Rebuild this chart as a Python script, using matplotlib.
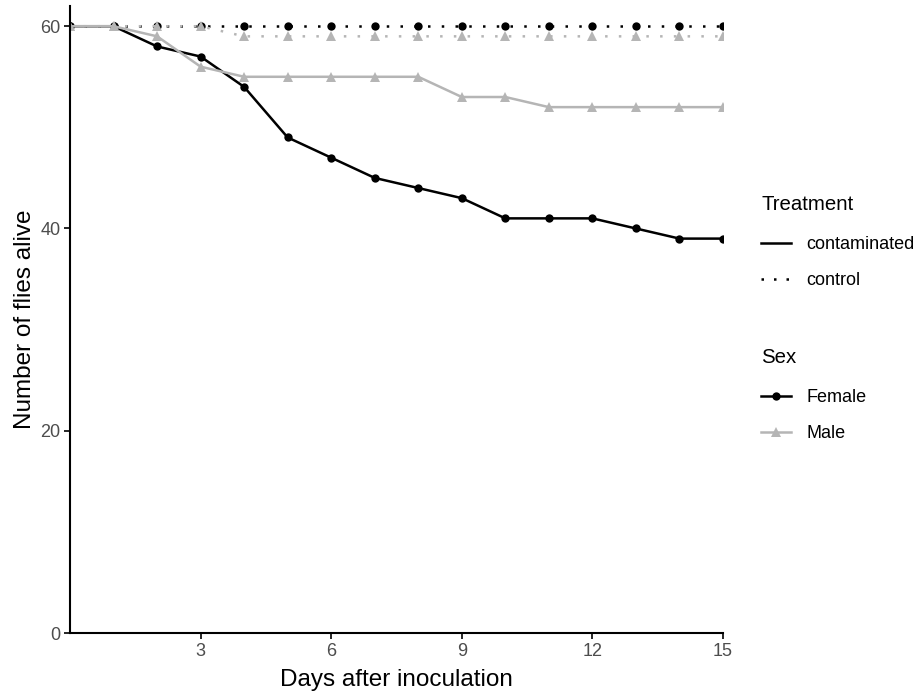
import matplotlib
matplotlib.use("Agg")
import matplotlib.pyplot as plt
from matplotlib.lines import Line2D

# ------------------------------
# Data
# ------------------------------
days = list(range(16))
female_contaminated = [60, 60, 58, 57, 54, 49, 47, 45, 44, 43, 41, 41, 41, 40, 39, 39]
male_contaminated = [60, 60, 59, 56, 55, 55, 55, 55, 55, 53, 53, 52, 52, 52, 52, 52]
female_control = [60] * 16
male_control = [60, 60, 60, 60, 59, 59, 59, 59, 59, 59, 59, 59, 59, 59, 59, 59]

x_ticks = [3, 6, 9, 12, 15]
y_ticks = [0, 20, 40, 60]

# ------------------------------
# Style
# ------------------------------
plt.rcParams["font.family"] = ["Liberation Sans", "DejaVu Sans"]
FEMALE = "black"
MALE = "#b5b5b5"
SOLID = "-"
DOTTED = (0, (1, 4.5))
LW = 1.8
TICK_GREY = "#4d4d4d"

fig = plt.figure(figsize=(9.21, 6.95), dpi=100)
ax = fig.add_axes([70 / 921, 62 / 695, 653 / 921, 627 / 695])

series = [
    (female_contaminated, FEMALE, SOLID, "o", 6),
    (female_control, FEMALE, DOTTED, "o", 6),
    (male_contaminated, MALE, SOLID, "^", 7.5),
    (male_control, MALE, DOTTED, "^", 7.5),
]
for values, color, ls, marker, ms in series:
    ax.plot(days, values, color=color, linestyle=ls, linewidth=LW,
            marker=marker, markersize=ms, markeredgewidth=0)

ax.set_xlim(0, 15)
ax.set_ylim(0, 62)
ax.set_xticks(x_ticks)
ax.set_yticks(y_ticks)
ax.tick_params(labelsize=13, labelcolor=TICK_GREY, color="black", length=4, width=1.2, pad=3)
for side in ["top", "right"]:
    ax.spines[side].set_visible(False)
for side in ["left", "bottom"]:
    ax.spines[side].set_linewidth(1.5)

ax.set_xlabel("Days after inoculation", fontsize=17.5, labelpad=7)
ax.set_ylabel("Number of flies alive", fontsize=17.5, labelpad=3)

# ------------------------------
# Legends
# ------------------------------
legend_kw = dict(loc="upper left", frameon=False, fontsize=13, title_fontsize=14.7,
                 handlelength=1.65, handletextpad=0.85, labelspacing=1.05,
                 borderaxespad=0, borderpad=0, alignment="left")

treat_handles = [
    Line2D([], [], color="black", linestyle=SOLID, linewidth=LW),
    Line2D([], [], color="black", linestyle=(0, (1, 4)), linewidth=LW),
]
leg1 = fig.legend(treat_handles, ["contaminated", "control"], title="Treatment",
                  bbox_to_anchor=(761 / 921, 1 - 195 / 695), **legend_kw)
leg1._legend_box.sep = 16

sex_handles = [
    Line2D([], [], color=FEMALE, linewidth=LW, marker="o", markersize=6, markeredgewidth=0),
    Line2D([], [], color=MALE, linewidth=LW, marker="^", markersize=7.5, markeredgewidth=0),
]
leg2 = fig.legend(sex_handles, ["Female", "Male"], title="Sex",
                  bbox_to_anchor=(761 / 921, 1 - 348 / 695), **legend_kw)
leg2._legend_box.sep = 16

fig.savefig("out.png", dpi=100)
